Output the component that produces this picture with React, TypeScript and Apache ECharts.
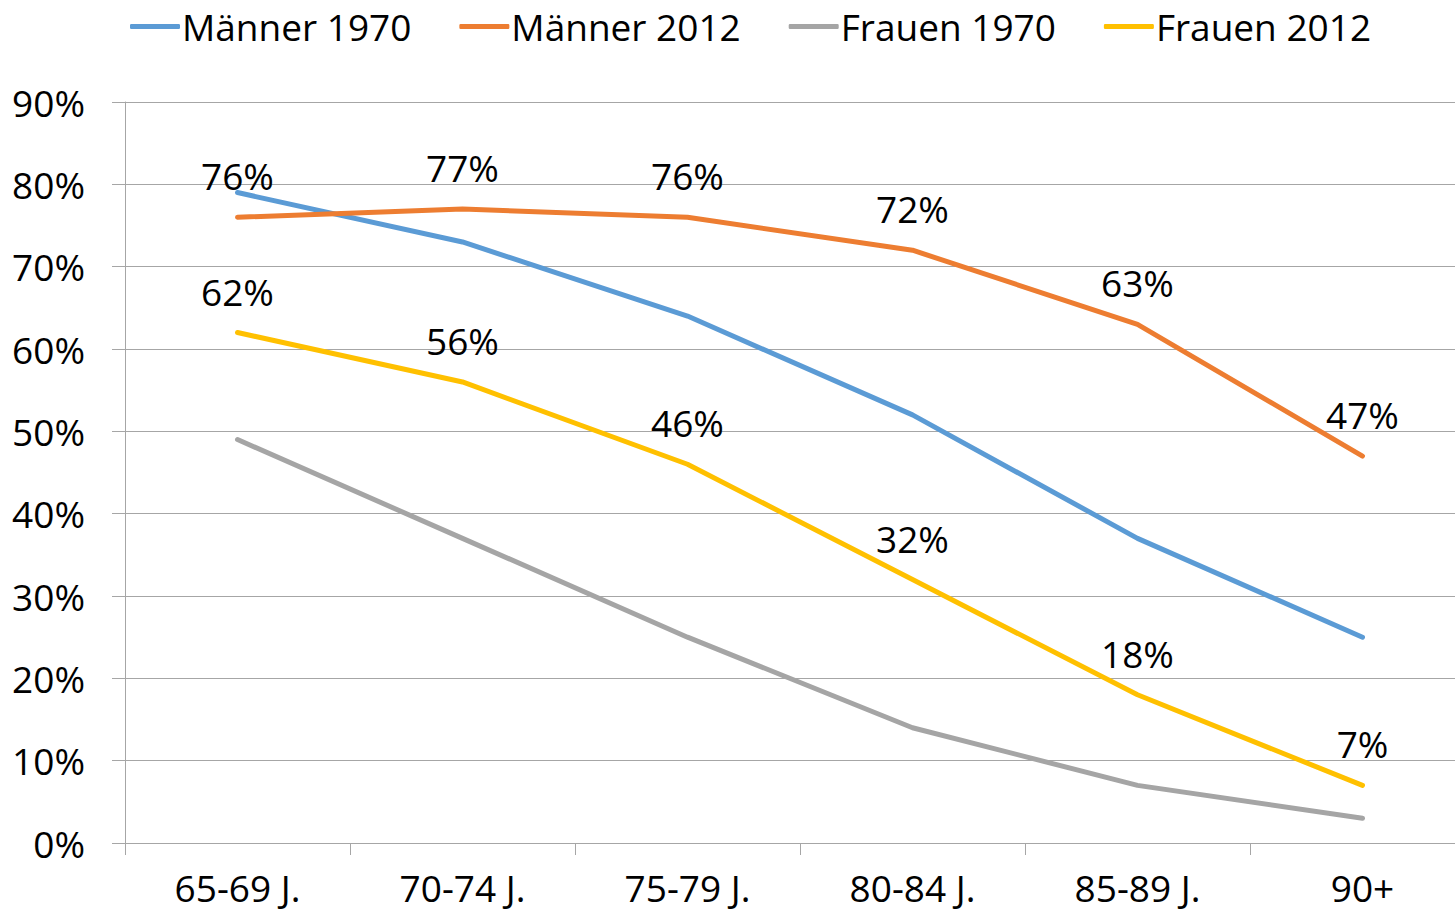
import React, { useEffect, useRef } from "react";
import * as echarts from "echarts";

const categories = ["65-69 J.", "70-74 J.", "75-79 J.", "80-84 J.", "85-89 J.", "90+"];
const maenner1970 = [79, 73, 64, 52, 37, 25];
const maenner2012 = [76, 77, 76, 72, 63, 47];
const frauen1970 = [49, 37, 25, 14, 7, 3];
const frauen2012 = [62, 56, 46, 32, 18, 7];
const seriesNames = ["Männer 1970", "Männer 2012", "Frauen 1970", "Frauen 2012"];
const colors = ["#5B9BD5", "#ED7D31", "#A5A5A5", "#FFC000"];

const FONT = "'Open Sans', sans-serif";
const FS = 37;

export default function App() {
  const ref = useRef<HTMLDivElement>(null);
  useEffect(() => {
    if (!ref.current) return;
    const chart = echarts.init(ref.current, undefined, { renderer: "svg" });
    const data = [maenner1970, maenner2012, frauen1970, frauen2012];
    const labelled = [false, true, false, true];
    chart.setOption({
      animation: false,
      color: colors,
      textStyle: { fontFamily: FONT },
      legend: {
        top: 8,
        left: 130,
        padding: 0,
        itemWidth: 50,
        itemHeight: 5,
        itemGap: 48,
        icon: "roundRect",
        textStyle: { fontSize: FS, color: "#000", fontFamily: FONT, padding: [0, 0, 0, -3] },
        data: seriesNames,
      },
      grid: { left: 125, right: 0, top: 102, bottom: 72, containLabel: false },
      xAxis: {
        type: "category",
        data: categories,
        boundaryGap: true,
        axisLine: { lineStyle: { color: "#A6A6A6", width: 1 } },
        axisTick: { show: true, length: 12, lineStyle: { color: "#A6A6A6" } },
        axisLabel: { fontSize: FS, lineHeight: 37, color: "#000", margin: 26, fontFamily: FONT },
      },
      yAxis: {
        type: "value",
        min: 0,
        max: 90,
        interval: 10,
        axisLine: { show: true, lineStyle: { color: "#A6A6A6", width: 1 } },
        axisTick: { show: true, length: 13, lineStyle: { color: "#A6A6A6" } },
        axisLabel: { fontSize: FS, color: "#000", margin: 40, formatter: "{value}%", fontFamily: FONT },
        splitLine: { show: true, lineStyle: { color: "#A6A6A6", width: 1 } },
      },
      series: seriesNames.map((name, i) => ({
        name,
        type: "line",
        data: data[i],
        symbol: "circle",
        symbolSize: 0,
        showSymbol: true,
        lineStyle: { width: 5, color: colors[i], cap: "round", join: "round" },
        itemStyle: { color: colors[i] },
        label: labelled[i]
          ? {
              show: true,
              position: "top",
              distance: 23,
              fontSize: FS,
              color: "#000",
              fontFamily: FONT,
              formatter: "{c}%",
            }
          : { show: false },
      })),
    });
    return () => chart.dispose();
  }, []);
  return (
    <div
      ref={ref}
      style={{ position: "fixed", left: 0, top: 0, width: 1475, height: 915, background: "#fff" }}
    />
  );
}
